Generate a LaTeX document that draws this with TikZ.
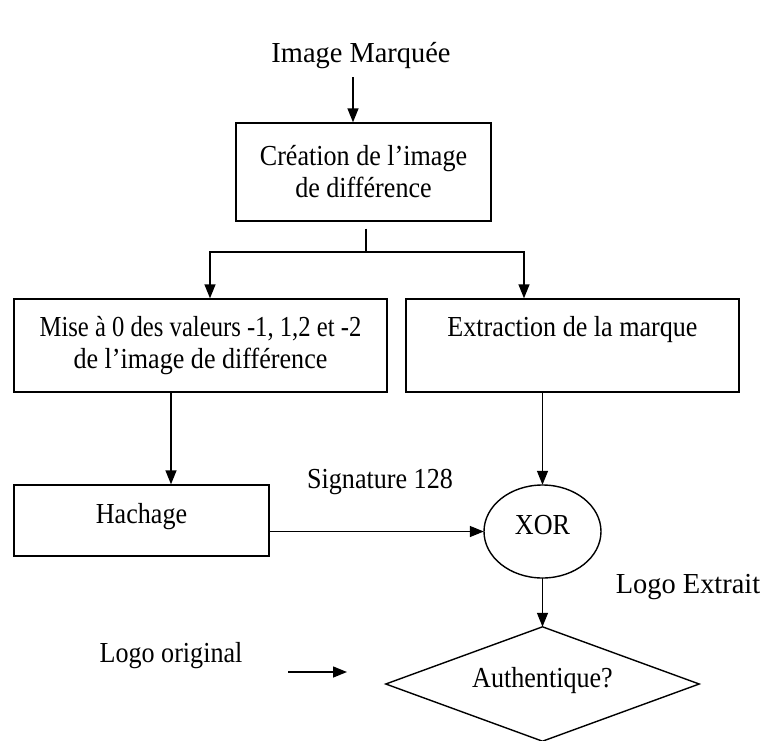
\documentclass[tikz,border=0pt]{standalone}
\usepackage{fontspec}
\setmainfont{Liberation Serif}[FakeStretch=0.9]
\newfontfamily\narrowserif{Liberation Serif}[FakeStretch=0.85]
\newfontfamily\wideserif{Liberation Serif}[FakeStretch=0.98]
\usetikzlibrary{arrows.meta}
\newcommand{\diagfont}{\fontsize{29}{32}\selectfont}
\begin{document}
\begin{tikzpicture}[x=1pt,y=-1pt,
  box/.style={draw, line width=1.4pt, inner sep=0pt, align=center, font=\diagfont},
  plain/.style={inner sep=0pt, align=center, font=\diagfont},
  lbl/.style={inner sep=0pt, anchor=base, font=\diagfont},
  outline/.style={line width=1.4pt},
  arr/.style={line width=1.4pt, -{Triangle[length=14pt,width=11pt]}},
  ln/.style={line width=1.4pt}]
\useasboundingbox (0,0) rectangle (764,740);
\node[lbl] (im) at (361,62) {\wideserif Image Marquée};
\node[box, minimum width=255pt, minimum height=98pt] (cre) at (363.5,172) {Création de l’image\\de différence};
\node[box, minimum width=373pt, minimum height=93pt] (mise) at (200.5,345.5) {{\narrowserif Mise à 0 des valeurs -1, 1,2 et -2}\\de l’image de différence};
\node[box, minimum width=333pt, minimum height=93pt] (ext) at (572.5,345.5) {Extraction de la marque\\\vphantom{de l’image de différence}};
\node[box, minimum width=255pt, minimum height=71pt, text depth=14pt] (hach) at (141.5,520.5) {Hachage};
\node[plain, minimum width=117pt, minimum height=93pt, text depth=13pt] (xor) at (542.5,531.5) {XOR};
\draw[outline] (xor.center) ellipse [x radius=58.5pt, y radius=46.5pt];
\node[plain, minimum width=313pt, minimum height=114pt, text depth=14pt] (dia) at (542.5,684) {Authentique?};
\draw[outline, line join=miter] (dia.north) -- (dia.east) -- (dia.south) -- (dia.west) -- cycle;
\node[lbl] (sig) at (380,488) {Signature 128};
\node[lbl] (lex) at (688,593) {\wideserif Logo Extrait};
\node[lbl] (lor) at (171,662) {Logo original};
\coordinate (a1) at (353,77);
\draw[arr] (a1) -- (a1 |- cre.north);
\coordinate (s) at (366,252);
\coordinate (sl) at (210,252);
\coordinate (sr) at (524,252);
\draw[ln, shorten <=7pt] (cre.south -| s) -- (s);
\draw[arr] (s) -- (sl) -- (sl |- mise.north);
\draw[arr] (s) -- (sr) -- (sr |- ext.north);
\coordinate (xl) at (171,0);
\draw[arr] (mise.south -| xl) -- (hach.north -| xl);
\draw[arr] (ext.south -| xor) -- (xor.north);
\draw[arr] (hach.east |- xor) -- (xor.west);
\draw[arr] (xor.south) -- (dia.north);
\coordinate (lo1) at (288,672);
\coordinate (lo2) at (347,672);
\draw[arr] (lo1) -- (lo2);
\end{tikzpicture}
\end{document}
